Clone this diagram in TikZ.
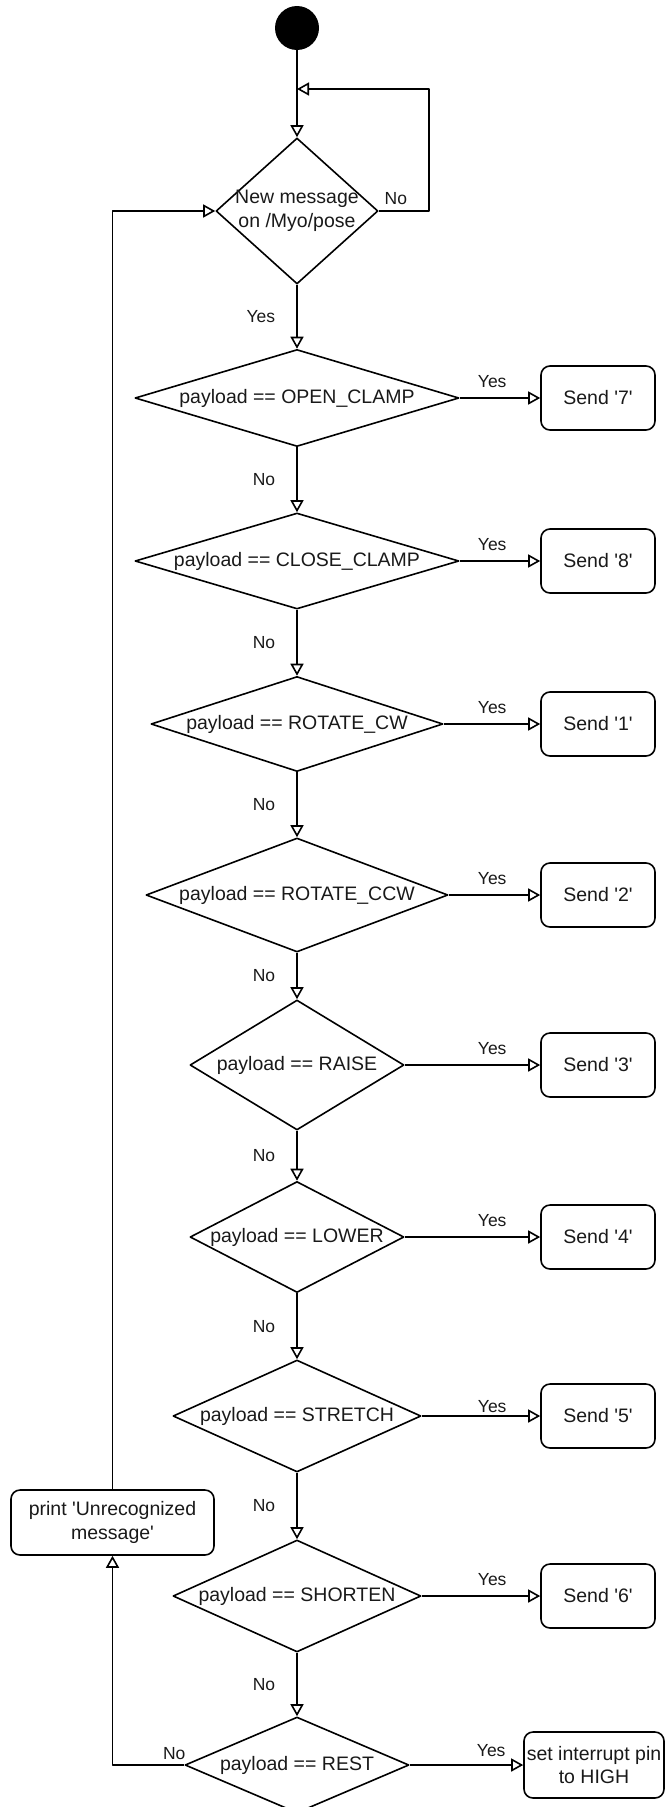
\documentclass[tikz,border=0pt]{standalone}
\usepackage{fontspec}
\setmainfont{Liberation Sans}
\usetikzlibrary{shapes.geometric,arrows.meta}

\tikzset{
  dec/.style={draw, diamond, inner sep=0pt, line width=1.6pt},
  act/.style={draw, rounded corners=9pt, inner sep=0pt, align=center,
    minimum width=114pt, minimum height=64pt, line width=1.6pt},
  flow/.style={line width=1.6pt, -{Triangle[open,length=12pt,width=13pt]}},
  lbl/.style={font=\fontsize{17.5}{20}\selectfont, inner sep=1pt},
  vlbl/.style={lbl, left=20pt},
  yeslbl/.style={lbl, pos=1, anchor=south, xshift=-48pt, yshift=9pt},
}

\newcommand{\sq}{\textquotesingle}

\begin{document}
\begin{tikzpicture}[x=1pt, y=-1pt, line join=round,
    font=\fontsize{19.5}{23.5}\selectfont, text=black!90]

\useasboundingbox (0,0) rectangle (667,1807);

% start and first check
\node[circle, fill=black, minimum size=44pt, inner sep=0pt] (st) at (297,28) {};
\coordinate (jn) at (297,89);
\node[dec, minimum width=162pt, minimum height=146pt] (d1) at (297,211)
    {\makebox[0pt]{\begin{tabular}{@{}c@{}}New message\\on /Myo/pose\end{tabular}}};

% payload checks
\node[dec, minimum width=324pt, minimum height=97pt] (d2) at (297,398)
    {\makebox[0pt]{payload == OPEN\_CLAMP}};
\node[dec, minimum width=324pt, minimum height=96pt] (d3) at (297,561)
    {\makebox[0pt]{payload == CLOSE\_CLAMP}};
\node[dec, minimum width=292pt, minimum height=95pt] (d4) at (297,724)
    {\makebox[0pt]{payload == ROTATE\_CW}};
\node[dec, minimum width=302pt, minimum height=114pt] (d5) at (297,895)
    {\makebox[0pt]{payload == ROTATE\_CCW}};
\node[dec, minimum width=214pt, minimum height=130pt] (d6) at (297,1065)
    {\makebox[0pt]{payload == RAISE}};
\node[dec, minimum width=214pt, minimum height=111pt] (d7) at (297,1237)
    {\makebox[0pt]{payload == LOWER}};
\node[dec, minimum width=248pt, minimum height=112pt] (d8) at (297,1416)
    {\makebox[0pt]{payload == STRETCH}};
\node[dec, minimum width=248pt, minimum height=112pt] (d9) at (297,1596)
    {\makebox[0pt]{payload == SHORTEN}};
\node[dec, minimum width=224pt, minimum height=96pt] (d10) at (297,1765)
    {\makebox[0pt]{payload == REST}};

% actions
\node[act] (s7) at (598,398)  {Send \sq7\sq};
\node[act] (s8) at (598,561)  {Send \sq8\sq};
\node[act] (s1) at (598,724)  {Send \sq1\sq};
\node[act] (s2) at (598,895)  {Send \sq2\sq};
\node[act] (s3) at (598,1065) {Send \sq3\sq};
\node[act] (s4) at (598,1237) {Send \sq4\sq};
\node[act] (s5) at (598,1416) {Send \sq5\sq};
\node[act] (s6) at (598,1596) {Send \sq6\sq};
\node[act, minimum width=140pt, minimum height=66pt] (pin) at (594,1765)
    {set interrupt pin\\to HIGH};
\node[act, minimum width=203pt, minimum height=65pt] (prt) at (112.5,1522.5)
    {print \sq Unrecognized\\message\sq};

% wait loop
\draw[flow] (st) -- (d1);
\draw[flow] (d1.east) -- node[lbl, above=5pt, pos=0.34] {No} ++(50,0) |- (jn);

% down the chain
\draw[flow] (d1) -- node[vlbl] {Yes} (d2);
\draw[flow] (d2) -- node[vlbl] {No} (d3);
\draw[flow] (d3) -- node[vlbl] {No} (d4);
\draw[flow] (d4) -- node[vlbl] {No} (d5);
\draw[flow] (d5) -- node[vlbl] {No} (d6);
\draw[flow] (d6) -- node[vlbl] {No} (d7);
\draw[flow] (d7) -- node[vlbl] {No} (d8);
\draw[flow] (d8) -- node[vlbl] {No} (d9);
\draw[flow] (d9) -- node[vlbl] {No} (d10);

% yes branches
\draw[flow] (d2.east) -- (s7.west) node[yeslbl] {Yes};
\draw[flow] (d3.east) -- (s8.west) node[yeslbl] {Yes};
\draw[flow] (d4.east) -- (s1.west) node[yeslbl] {Yes};
\draw[flow] (d5.east) -- (s2.west) node[yeslbl] {Yes};
\draw[flow] (d6.east) -- (s3.west) node[yeslbl] {Yes};
\draw[flow] (d7.east) -- (s4.west) node[yeslbl] {Yes};
\draw[flow] (d8.east) -- (s5.west) node[yeslbl, yshift=-7pt] {Yes};
\draw[flow] (d9.east) -- (s6.west) node[yeslbl] {Yes};
\draw[flow] (d10.east) -- (pin.west) node[yeslbl, xshift=16pt, yshift=-2pt] {Yes};

% unrecognized
\draw[flow] (d10.west) node[lbl, anchor=south east, xshift=3pt, yshift=4pt] {No}
    -| (prt.south);
\draw[flow] (prt.north) |- (d1.west);

\end{tikzpicture}
\end{document}
